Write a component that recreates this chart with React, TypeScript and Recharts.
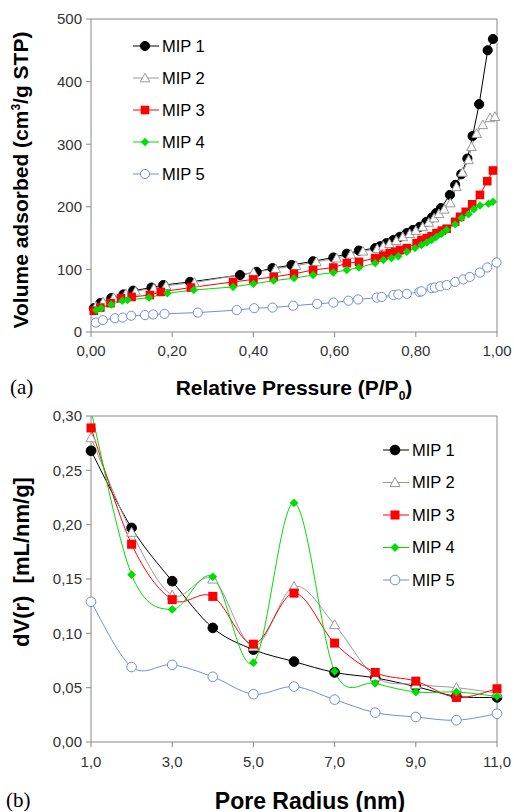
import React from 'react';
import { LineChart, Line, XAxis, YAxis, ReferenceLine } from 'recharts';

// (a) isotherms: relative pressure / volume adsorbed
const mip1P = [0.007, 0.023, 0.05, 0.08, 0.104, 0.149, 0.178, 0.244, 0.367, 0.408, 0.447, 0.494, 0.547, 0.597, 0.63, 0.66, 0.7, 0.712, 0.728, 0.745, 0.761, 0.778, 0.793, 0.81, 0.826, 0.84, 0.85, 0.862, 0.884, 0.897, 0.912, 0.927, 0.94, 0.956, 0.977, 0.99];
const mip1V = [38, 46, 54, 60, 66, 71, 75, 80, 91, 96, 102, 107, 113, 119, 125, 130, 134, 137, 142, 147, 152, 158, 163, 168, 176, 183, 190, 198, 219, 235, 252, 277, 313, 364, 450, 468];
const mip2P = [0.012, 0.03, 0.056, 0.086, 0.11, 0.155, 0.185, 0.255, 0.4, 0.455, 0.505, 0.555, 0.605, 0.64, 0.67, 0.705, 0.72, 0.735, 0.752, 0.768, 0.785, 0.8, 0.817, 0.832, 0.845, 0.857, 0.87, 0.885, 0.9, 0.915, 0.93, 0.937, 0.95, 0.965, 0.983, 0.995];
const mip2V = [41, 48, 55, 61, 65, 70, 74, 79, 95, 101, 106, 112, 118, 124, 129, 133, 137, 141, 146, 152, 157, 162, 168, 175, 182, 189, 196, 206, 232, 255, 275, 296, 317, 331, 342, 344];
const mip3P = [0.007, 0.023, 0.048, 0.074, 0.1, 0.145, 0.172, 0.246, 0.35, 0.4, 0.45, 0.5, 0.547, 0.597, 0.63, 0.66, 0.7, 0.72, 0.736, 0.749, 0.761, 0.778, 0.802, 0.814, 0.827, 0.839, 0.851, 0.864, 0.876, 0.897, 0.909, 0.923, 0.939, 0.958, 0.976, 0.99];
const mip3V = [34, 39, 46, 54, 56, 59, 64, 71, 80, 84, 88, 93, 99, 103, 110, 112, 118, 122, 126, 128, 131, 134, 142, 147, 150, 153, 158, 162, 165, 176, 184, 192, 204, 219, 241, 258];
const mip4P = [0.013, 0.025, 0.05, 0.077, 0.09, 0.143, 0.188, 0.253, 0.35, 0.4, 0.45, 0.5, 0.547, 0.597, 0.63, 0.66, 0.7, 0.72, 0.74, 0.757, 0.778, 0.798, 0.814, 0.827, 0.839, 0.851, 0.864, 0.876, 0.897, 0.913, 0.93, 0.943, 0.958, 0.979, 0.99];
const mip4V = [35, 38, 44, 50, 51, 55, 62, 67, 72, 77, 82, 86, 91, 95, 99, 103, 110, 115, 118, 121, 128, 134, 139, 143, 147, 152, 157, 163, 172, 182, 188, 196, 202, 205, 208];
const mip5P = [0.012, 0.029, 0.059, 0.078, 0.099, 0.133, 0.153, 0.181, 0.263, 0.359, 0.402, 0.447, 0.498, 0.557, 0.597, 0.634, 0.658, 0.704, 0.716, 0.745, 0.757, 0.778, 0.809, 0.814, 0.839, 0.847, 0.86, 0.876, 0.897, 0.917, 0.933, 0.958, 0.976, 0.999];
const mip5V = [15, 19, 22, 23, 26, 27, 28, 29, 31, 35, 38, 39, 42, 45, 47, 50, 52, 55, 56, 59, 60, 61, 64, 65, 70, 71, 73, 75, 80, 84, 88, 95, 103, 111];

// (b) pore size distribution
const radius = [1, 2, 3, 4, 5, 6, 7, 8, 9, 10, 11];
const dv1 = [0.268, 0.197, 0.148, 0.105, 0.085, 0.074, 0.064, 0.059, 0.051, 0.042, 0.041];
const dv2 = [0.28, 0.193, 0.135, 0.15, 0.088, 0.143, 0.108, 0.06, 0.053, 0.05, 0.045];
const dv3 = [0.289, 0.182, 0.131, 0.134, 0.09, 0.137, 0.091, 0.064, 0.056, 0.041, 0.049];
const dv4 = [0.305, 0.154, 0.122, 0.152, 0.073, 0.22, 0.065, 0.054, 0.046, 0.046, 0.042];
const dv5 = [0.129, 0.069, 0.071, 0.06, 0.044, 0.051, 0.039, 0.027, 0.023, 0.02, 0.026];

const pTicks = [0, 0.2, 0.4, 0.6, 0.8, 1];
const vTicks = [0, 100, 200, 300, 400, 500];
const rTicks = [1, 3, 5, 7, 9, 11];
const dvTicks = [0, 0.05, 0.1, 0.15, 0.2, 0.25, 0.3];

const names = ['MIP 1', 'MIP 2', 'MIP 3', 'MIP 4', 'MIP 5'];

const FONT = '"Liberation Sans", Arial, sans-serif';
const AX = '#888';
const colors = ['#000', '#9a9a9a', '#ff0000', '#00dd00', '#6f8fd8'];

const pts = (xs: number[], ys: number[]) => xs.map((x, i) => ({ x, v: ys[i] }));

// catmull-rom style smoothing, like the original plotting program
const smooth: any = (ctx: any) => {
  let p: number[][] = [];
  return {
    areaStart() {}, areaEnd() {},
    lineStart() { p = []; },
    point(x: number, y: number) { p.push([+x, +y]); },
    lineEnd() {
      if (!p.length) return;
      ctx.moveTo(p[0][0], p[0][1]);
      for (let i = 0; i < p.length - 1; i++) {
        const a = p[i - 1] || p[i], b = p[i], c = p[i + 1], d = p[i + 2] || c;
        ctx.bezierCurveTo(b[0] + (c[0] - a[0]) / 6, b[1] + (c[1] - a[1]) / 6,
          c[0] - (d[0] - b[0]) / 6, c[1] - (d[1] - b[1]) / 6, c[0], c[1]);
      }
    },
  };
};

function Marker({ kind, cx, cy, s = 1 }: { kind: number; cx: number; cy: number; s?: number }) {
  if (cx == null || cy == null) return null;
  if (kind === 0) return <circle cx={cx} cy={cy} r={4.6 * s} fill="#000" stroke="#000" />;
  if (kind === 1) {
    const h = 4.8 * s;
    return <polygon points={`${cx},${cy - h} ${cx + h},${cy + h * 0.8} ${cx - h},${cy + h * 0.8}`} fill="#fff" stroke="#999" strokeWidth={1} />;
  }
  if (kind === 2) return <rect x={cx - 4.3 * s} y={cy - 4.3 * s} width={8.6 * s} height={8.6 * s} fill="#ff0000" />;
  if (kind === 3) {
    const h = 4.2 * s;
    return <polygon points={`${cx},${cy - h} ${cx + h},${cy} ${cx},${cy + h} ${cx - h},${cy}`} fill="#00dd00" />;
  }
  return <circle cx={cx} cy={cy} r={4.6 * s} fill="#fff" stroke="#6f8fd8" strokeWidth={1} />;
}

const dotFor = (kind: number, s = 1) => (props: any) => (
  <Marker key={`${kind}-${props.index}`} kind={kind} cx={props.cx} cy={props.cy} s={s} />
);

function LegendBox({ left, top, gap, s = 1 }: { left: number; top: number; gap: number; s?: number }) {
  return (
    <svg width={110} height={gap * 5 + 10} style={{ position: 'absolute', left, top }}>
      {names.map((n, i) => {
        const y = 10 + i * gap;
        return (
          <g key={n}>
            <line x1={0} x2={26} y1={y} y2={y} stroke={colors[i]} strokeWidth={1} />
            <Marker kind={i} cx={12} cy={y} s={s} />
            <text x={29} y={y} dy="0.36em" fontFamily={FONT} fontSize={16.5} fill="#000">{n}</text>
          </g>
        );
      })}
    </svg>
  );
}

const tickStyle = { fontFamily: FONT, fontSize: 15, fill: '#333' };
const comma = (d: number) => (v: number) => v.toFixed(d).replace('.', ',');

const title: React.CSSProperties = {
  position: 'absolute', fontFamily: FONT, fontWeight: 'bold', whiteSpace: 'pre', color: '#000', lineHeight: 1,
};

export default function App() {
  const iso = [pts(mip1P, mip1V), pts(mip2P, mip2V), pts(mip3P, mip3V), pts(mip4P, mip4V), pts(mip5P, mip5V)];
  const psd = [dv1, dv2, dv3, dv4, dv5].map((d) => pts(radius, d));
  return (
    <div style={{ position: 'absolute', left: 0, top: 0, width: 514, height: 812, background: '#fff' }}>
      <div style={{ position: 'absolute', left: 0, top: 0 }}>
        <LineChart width={514} height={370} margin={{ top: 19, right: 17, left: 0, bottom: 0 }}>
          <XAxis dataKey="x" type="number" domain={[0, 1]} ticks={pTicks} tickFormatter={comma(2)}
            tick={tickStyle} stroke={AX} tickSize={5} tickMargin={8} height={38} />
          <YAxis type="number" domain={[0, 500]} ticks={vTicks} tick={tickStyle} stroke={AX}
            tickSize={5} tickMargin={4} width={91} />
          <ReferenceLine y={500} stroke={AX} />
          <ReferenceLine x={1} stroke={AX} />
          {iso.map((d, i) => (
            <Line key={i} data={d} dataKey="v" type="linear" stroke={colors[i]} strokeWidth={1}
              dot={dotFor(i)} activeDot={false} isAnimationActive={false} />
          ))}
        </LineChart>
      </div>
      <LegendBox left={133} top={36} gap={32} />
      <div style={{ ...title, fontSize: 21, left: 20, top: 180, transform: 'translate(-50%,-50%) rotate(-90deg)' }}>
        Volume adsorbed (cm<span style={{ fontSize: 12, verticalAlign: 'super', lineHeight: 0 }}>3</span>/g STP)
      </div>
      <div style={{ ...title, fontSize: 21, left: 294, top: 387, transform: 'translate(-50%,-50%)' }}>
        Relative Pressure (P/P<span style={{ fontSize: 12, verticalAlign: 'sub', lineHeight: 0 }}>0</span>)
      </div>
      <div style={{ position: 'absolute', left: 10, top: 375, fontFamily: '"Liberation Serif", "Times New Roman", serif', fontSize: 21 }}>(a)</div>

      <div style={{ position: 'absolute', left: 0, top: 400 }}>
        <LineChart width={514} height={380} margin={{ top: 16, right: 17, left: 0, bottom: 0 }}>
          <XAxis dataKey="x" type="number" domain={[1, 11]} ticks={rTicks} tickFormatter={comma(1)}
            tick={tickStyle} stroke={AX} tickSize={5} tickMargin={9} height={38} />
          <YAxis type="number" domain={[0, 0.3]} ticks={dvTicks} tickFormatter={comma(2)} allowDataOverflow
            tick={tickStyle} stroke={AX} tickSize={5} tickMargin={4} width={91} />
          <ReferenceLine y={0.3} stroke={AX} />
          <ReferenceLine x={11} stroke={AX} />
          {psd.map((d, i) => (
            <Line key={i} data={d} dataKey="v" type={smooth} stroke={colors[i]} strokeWidth={1}
              dot={dotFor(i, 1.05)} activeDot={false} isAnimationActive={false} />
          ))}
        </LineChart>
      </div>
      <LegendBox left={383} top={440} gap={32.5} s={1.05} />
      <div style={{ ...title, fontSize: 22, left: 22, top: 562, transform: 'translate(-50%,-50%) rotate(-90deg)' }}>
        {'dV(r)  [mL/nm/g]'}
      </div>
      <div style={{ ...title, fontSize: 23, left: 310, top: 801, transform: 'translate(-50%,-50%)' }}>
        Pore Radius (nm)
      </div>
      <div style={{ position: 'absolute', left: 6, top: 788, fontFamily: '"Liberation Serif", "Times New Roman", serif', fontSize: 21 }}>(b)</div>
    </div>
  );
}
